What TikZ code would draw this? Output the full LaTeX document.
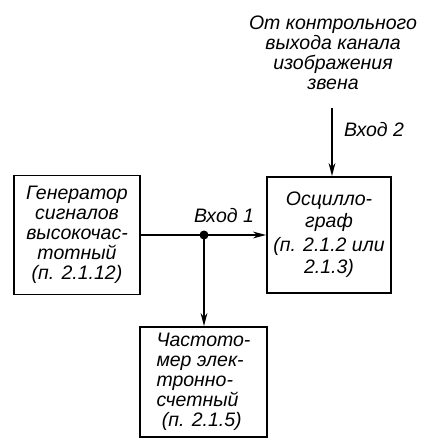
\documentclass[tikz,border=0pt]{standalone}
\usepackage{fontspec}
\newfontfamily\gost{Liberation Sans}
\usetikzlibrary{arrows.meta,positioning}
\newcommand{\gostfont}{\gost\itshape\fontsize{19.5}{20}\selectfont}
\tikzset{
  ar/.style={-{Stealth[length=4.6mm,width=2.4mm]},line width=1.4pt},
  ln/.style={line width=1.4pt},
  box/.style={draw,line width=1.9pt,inner sep=0pt,font=\gostfont},
  lbl/.style={font=\gostfont,inner sep=0pt}
}

\begin{document}
\begin{tikzpicture}[x=1pt,y=-1pt]
\useasboundingbox (0,0) rectangle (424,439);
% blocks
\node[box,minimum width=126pt,minimum height=119pt,align=center] (gen) at (77,235)
  {Генератор\\сигналов\\высокочас-\\тотный\\(п. 2.1.12)};
\node[box,minimum width=124pt,minimum height=116pt,align=center] (osc) at (329,235)
  {Осцилло-\\[2pt]граф\\[4pt](п. 2.1.2 или\\[2pt]2.1.3)};
\node[box,minimum width=127pt,minimum height=110pt,align=left] (freq) at (203.5,382)
  {Частото-\\мер элек-\\тронно-\\счетный\\\ (п. 2.1.5)};
% source of input 2
\node[lbl,align=center] (src) at (333,53)
  {От контрольного\\выхода канала\\изображения\\звена};
\coordinate (top) at (332,108);
\coordinate (dot) at (204,235);
% connections
\draw[ln] (gen.east) -- (dot);
\draw[ar] (dot) -- (osc.west);
\draw[ar] (dot) -- (dot |- freq.north);
\draw[ar] (top) -- (top |- osc.north);
\fill (dot) circle (4.5pt);
\node[lbl,above=12pt of dot,xshift=20pt] (in1) {Вход 1};
\node[lbl,below right=14pt and 12pt of top] (in2) {Вход 2};
\end{tikzpicture}
\end{document}
